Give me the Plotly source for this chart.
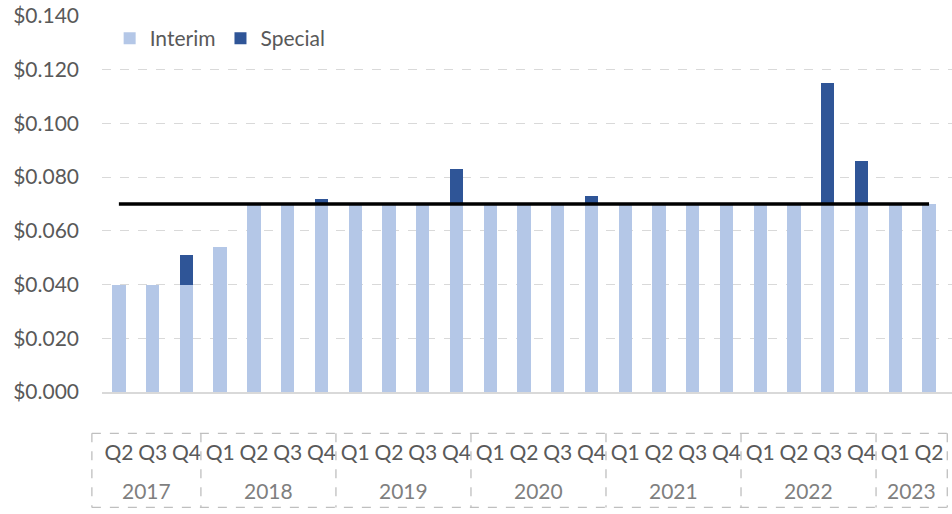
import plotly.graph_objects as go

quarters = ["Q2", "Q3", "Q4",
            "Q1", "Q2", "Q3", "Q4",
            "Q1", "Q2", "Q3", "Q4",
            "Q1", "Q2", "Q3", "Q4",
            "Q1", "Q2", "Q3", "Q4",
            "Q1", "Q2", "Q3", "Q4",
            "Q1", "Q2"]
years = ["2017", "2017", "2017",
         "2018", "2018", "2018", "2018",
         "2019", "2019", "2019", "2019",
         "2020", "2020", "2020", "2020",
         "2021", "2021", "2021", "2021",
         "2022", "2022", "2022", "2022",
         "2023", "2023"]
interim = [0.040, 0.040, 0.040,
           0.054, 0.070, 0.070, 0.070,
           0.070, 0.070, 0.070, 0.070,
           0.070, 0.070, 0.070, 0.070,
           0.070, 0.070, 0.070, 0.070,
           0.070, 0.070, 0.070, 0.070,
           0.070, 0.070]
special = [0.0, 0.0, 0.011,
           0.0, 0.0, 0.0, 0.002,
           0.0, 0.0, 0.0, 0.013,
           0.0, 0.0, 0.0, 0.003,
           0.0, 0.0, 0.0, 0.0,
           0.0, 0.0, 0.045, 0.016,
           0.0, 0.0]
reference_level = 0.070
y_ticks = [0.0, 0.02, 0.04, 0.06, 0.08, 0.10, 0.12, 0.14]

FONT = "Lato"
GREY = "#595959"
LIGHT_GREY = "#7f7f7f"
x = list(range(len(quarters)))
XR = [-0.5, len(quarters) - 0.32]

fig = go.Figure()
fig.add_trace(go.Bar(x=x, y=interim, name="Interim", marker=dict(color="#b4c7e7", line=dict(width=0))))
fig.add_trace(go.Bar(x=x, y=special, name="Special", marker=dict(color="#2f5597", line=dict(width=0))))
fig.add_trace(go.Scatter(x=[x[0], x[-1]], y=[reference_level, reference_level], mode="lines",
                         line=dict(color="black", width=3.5), showlegend=False, hoverinfo="skip"))


def to_paper(v):
    return (v - XR[0]) / (XR[1] - XR[0])


# group boundaries for the two-level category box
bounds = [-0.8]
for i in range(1, len(years)):
    if years[i] != years[i - 1]:
        bounds.append(i - 0.5 - 0.07)
bounds.append(len(years) - 0.46)
group_names = []
for yv in years:
    if not group_names or group_names[-1] != yv:
        group_names.append(yv)

box_top, box_bot = -0.110, -0.307
dash = dict(color="#bfbfbf", width=1.3, dash="dash")
shapes = []
shapes.append(dict(type="line", xref="paper", yref="paper", x0=to_paper(bounds[0]), x1=to_paper(bounds[-1]),
                   y0=box_top, y1=box_top, line=dash))
shapes.append(dict(type="line", xref="paper", yref="paper", x0=to_paper(bounds[0]), x1=to_paper(bounds[-1]),
                   y0=box_bot, y1=box_bot, line=dash))
for b in bounds:
    shapes.append(dict(type="line", xref="paper", yref="paper", x0=to_paper(b), x1=to_paper(b),
                       y0=box_top, y1=box_bot, line=dash))

annotations = []
for k, name in enumerate(group_names):
    cx = (to_paper(bounds[k]) + to_paper(bounds[k + 1])) / 2
    annotations.append(dict(text=name, xref="paper", yref="paper", x=cx, y=-0.263,
                            xanchor="center", yanchor="middle", showarrow=False,
                            font=dict(family=FONT, size=21, color=LIGHT_GREY)))

fig.update_layout(
    width=952, height=514,
    margin=dict(l=102, r=0, t=16, b=122),
    paper_bgcolor="white", plot_bgcolor="white",
    barmode="stack", bargap=0.605,
    font=dict(family=FONT, size=21, color=GREY),
    legend=dict(orientation="h", x=0.009, y=0.94, xanchor="left", yanchor="middle",
                font=dict(family=FONT, size=21, color=GREY), bgcolor="rgba(0,0,0,0)",
                itemwidth=30, tracegroupgap=0, traceorder="normal"),
    shapes=shapes, annotations=annotations,
    xaxis=dict(range=XR, tickvals=x, ticktext=quarters, showgrid=False, zeroline=False,
               showline=True, linecolor="#d9d9d9", linewidth=1.5, ticks="",
               ticklabelstandoff=41, tickfont=dict(family=FONT, size=21, color=GREY)),
    yaxis=dict(range=[0, 0.14], tickvals=y_ticks, tickformat="$.3f", showgrid=True,
               gridcolor="#d9d9d9", gridwidth=1.3, griddash="dash", zeroline=False,
               showline=False, ticks="", ticklabelstandoff=22,
               tickfont=dict(family=FONT, size=21, color=GREY)),
)

fig.write_html("out.html", config={"displayModeBar": False},
               post_script="document.body.style.margin='0';document.body.style.padding='0';")
